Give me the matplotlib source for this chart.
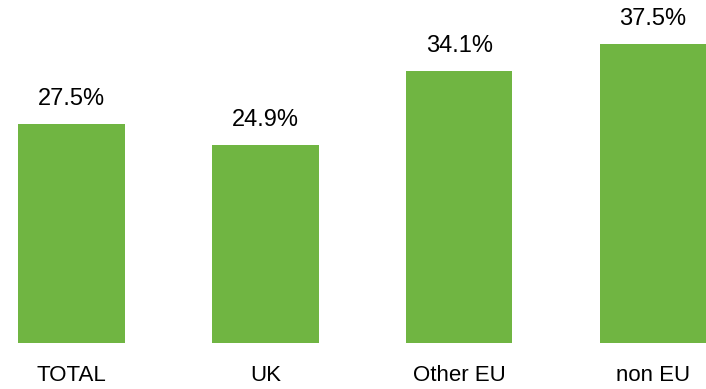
import matplotlib
matplotlib.use("Agg")
import matplotlib.pyplot as plt

categories = ["TOTAL", "UK", "Other EU", "non EU"]
values = [27.5, 24.9, 34.1, 37.5]
labels = ["27.5%", "24.9%", "34.1%", "37.5%"]

plt.rcParams['font.family'] = ['Liberation Sans', 'DejaVu Sans']

fig = plt.figure(figsize=(7.06, 3.89), dpi=100)
ax = fig.add_axes([0, (389 - 343) / 389, 1, 343 / 389])
x = range(len(categories))
bars = ax.bar(x, values, width=0.55, color="#70b542")
ax.set_xlim(-71.5 / 194, 3 + 53 / 194)
ax.set_ylim(0, 343 / 7.97)
for b, lab in zip(bars, labels):
    ax.annotate(lab, (b.get_x() + b.get_width() / 2, b.get_height()),
                xytext=(0, 10), textcoords="offset points", ha="center", va="bottom",
                fontsize=17)
ax.set_xticks(list(x))
ax.set_xticklabels(categories, fontsize=16)
ax.tick_params(axis="x", length=0, pad=15.5)
ax.set_yticks([])
for s in ax.spines.values():
    s.set_visible(False)
fig.savefig("out.png", dpi=100)
